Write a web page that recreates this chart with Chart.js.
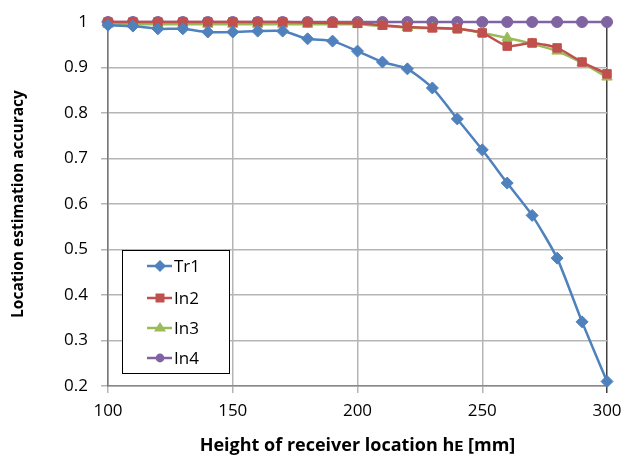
<!DOCTYPE html>
<html lang="en">
<head>
    <meta charset="UTF-8">
    <title>Location estimation accuracy</title>
    <script src="https://cdn.jsdelivr.net/npm/chart.js"></script>
    <style>
        body { margin: 0; background: #fff; }
    </style>
</head>
<body>
    <canvas id="myChart" width="624" height="457"></canvas>

    <script>
        // receiver height [mm]
        var heights = [100, 110, 120, 130, 140, 150, 160, 170, 180, 190, 200,
                       210, 220, 230, 240, 250, 260, 270, 280, 290, 300];

        var tr1 = [0.993, 0.991, 0.985, 0.985, 0.978, 0.978, 0.980, 0.980, 0.963, 0.958, 0.936,
                   0.912, 0.897, 0.855, 0.787, 0.719, 0.646, 0.575, 0.481, 0.341, 0.210];
        var in2 = [1.000, 1.000, 1.000, 1.000, 1.000, 1.000, 1.000, 1.000, 0.999, 0.998, 0.997,
                   0.993, 0.989, 0.987, 0.985, 0.976, 0.947, 0.954, 0.943, 0.912, 0.886];
        var in3 = [0.995, 0.995, 0.995, 0.995, 0.995, 0.995, 0.995, 0.995, 0.995, 0.995, 0.995,
                   0.991, 0.988, 0.986, 0.985, 0.976, 0.965, 0.952, 0.936, 0.910, 0.879];
        var in4 = [1, 1, 1, 1, 1, 1, 1, 1, 1, 1, 1,
                   1, 1, 1, 1, 1, 1, 1, 1, 1, 1];

        var xTicks = [100, 150, 200, 250, 300];
        var yTicks = [0.2, 0.3, 0.4, 0.5, 0.6, 0.7, 0.8, 0.9, 1];

        var FONT = "'Open Sans', 'Liberation Sans', sans-serif";

        function series(label, values, color, style, radius) {
            return {
                label: label,
                data: heights.map(function (h, i) { return { x: h, y: values[i] }; }),
                borderColor: color,
                backgroundColor: color,
                borderWidth: 2.5,
                pointStyle: style,
                pointRadius: radius,
                pointHoverRadius: radius,
                pointBorderWidth: 1,
                tension: 0.2,
                clip: false
            };
        }

        // legend box drawn inside the plot, like the spreadsheet original
        var boxLegend = {
            id: 'boxLegend',
            afterDraw: function (chart) {
                var ctx = chart.ctx;
                ctx.save();
                ctx.fillStyle = '#fff';
                ctx.fillRect(122, 250, 107, 123);
                ctx.strokeStyle = '#000';
                ctx.lineWidth = 1;
                ctx.strokeRect(122.5, 250.5, 107, 123);
                var rows = [266, 298, 328, 358];
                chart.data.datasets.forEach(function (ds, i) {
                    var y = rows[i];
                    ctx.strokeStyle = ds.borderColor;
                    ctx.lineWidth = 2.5;
                    ctx.beginPath();
                    ctx.moveTo(147, y);
                    ctx.lineTo(172, y);
                    ctx.stroke();
                    ctx.fillStyle = ds.backgroundColor;
                    var r = ds.pointRadius;
                    ctx.beginPath();
                    if (ds.pointStyle === 'rectRot') {
                        ctx.moveTo(160, y - r); ctx.lineTo(160 + r, y);
                        ctx.lineTo(160, y + r); ctx.lineTo(160 - r, y);
                    } else if (ds.pointStyle === 'rect') {
                        ctx.rect(160 - r * 0.75, y - r * 0.75, r * 1.5, r * 1.5);
                    } else if (ds.pointStyle === 'triangle') {
                        ctx.moveTo(160, y - r); ctx.lineTo(160 + r, y + r * 0.6);
                        ctx.lineTo(160 - r, y + r * 0.6);
                    } else {
                        ctx.arc(160, y, r * 0.8, 0, Math.PI * 2);
                    }
                    ctx.closePath();
                    ctx.fill();
                    ctx.fillStyle = '#000';
                    ctx.font = '17px ' + FONT;
                    ctx.textBaseline = 'middle';
                    ctx.fillText(ds.label, 174, y + 1);
                });
                ctx.restore();
            }
        };

        var ctx = document.getElementById('myChart').getContext('2d');
        var myChart = new Chart(ctx, {
            type: 'line',
            data: {
                datasets: [
                    series('Tr1', tr1, '#4f81bd', 'rectRot', 6),
                    series('In2', in2, '#c0504d', 'rect', 6),
                    series('In3', in3, '#9bbb59', 'triangle', 6),
                    series('In4', in4, '#8064a2', 'circle', 5.5)
                ]
            },
            options: {
                responsive: false,
                animation: false,
                events: [],
                layout: { padding: { left: 0, right: 17, top: 22, bottom: 0 } },
                plugins: {
                    legend: { display: false },
                    tooltip: { enabled: false }
                },
                scales: {
                    x: {
                        type: 'linear',
                        min: 100,
                        max: 300,
                        afterBuildTicks: function (s) { s.ticks = xTicks.map(function (v) { return { value: v }; }); },
                        afterFit: function (s) { s.height = 71; s.paddingLeft = 0; s.paddingRight = 0; },
                        ticks: { color: '#000', font: { family: FONT, size: 17 }, padding: 8 },
                        grid: {
                            color: function (c) { return c.tick && c.tick.value === 300 ? '#404040' : '#b5b5b5'; },
                            lineWidth: 1.5,
                            tickLength: 7
                        },
                        border: { color: '#888', width: 1.5 },
                        title: {
                            display: true,
                            text: 'Height of receiver location h\u1D07 [mm]',
                            color: '#000',
                            font: { family: FONT, size: 18, weight: 'bold' },
                            padding: { top: 0, bottom: 0 }
                        }
                    },
                    y: {
                        min: 0.2,
                        max: 1,
                        afterBuildTicks: function (s) { s.ticks = yTicks.map(function (v) { return { value: v }; }); },
                        afterFit: function (s) { s.width = 108; s.paddingTop = 0; s.paddingBottom = 0; },
                        ticks: {
                            color: '#000',
                            font: { family: FONT, size: 17 },
                            padding: 13,
                            callback: function (v) { return String(Math.round(v * 10) / 10); }
                        },
                        grid: { color: '#b5b5b5', lineWidth: 1.5, tickLength: 7 },
                        border: { color: '#777', width: 1.5 },
                        title: {
                            display: true,
                            text: 'Location estimation accuracy',
                            color: '#000',
                            font: { family: FONT, size: 15.5, weight: 'bold' },
                            padding: { top: 9, bottom: 0 }
                        }
                    }
                }
            },
            plugins: [boxLegend]
        });
    </script>
</body>
</html>
